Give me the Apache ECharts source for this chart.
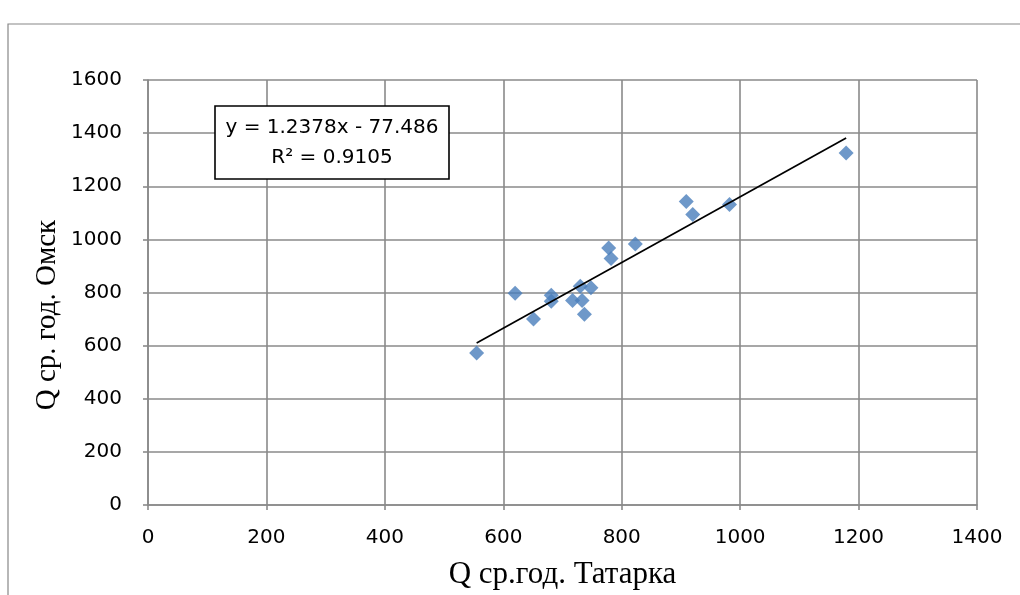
<!DOCTYPE html>
<html>
<head>
<meta charset="utf-8">
<script src="https://cdn.jsdelivr.net/npm/echarts@6/dist/echarts.min.js"></script>
<style>
html,body{margin:0;padding:0;background:#fff;}
#c{width:1020px;height:595px;}
</style>
</head>
<body>
<div id="c"></div>
<script>
const xValues = [555, 620, 651, 681, 681, 717, 730, 733, 737, 748, 778, 782, 823, 909, 920, 982, 1179];
const yValues = [572, 797, 700, 790, 767, 770, 824, 770, 718, 818, 968, 928, 983, 1143, 1094, 1131, 1325];
const slope = 1.2378;
const intercept = -77.486;
const r2 = 0.9105;
const xAxisTitle = 'Q ср.год. Татарка';
const yAxisTitle = 'Q ср. год. Омск';

const points = xValues.map((x, i) => [x, yValues[i]]);
const xMin = Math.min(...xValues), xMax = Math.max(...xValues);
const trend = [[xMin, slope * xMin + intercept], [xMax, slope * xMax + intercept]];
const eqText = 'y = ' + slope.toFixed(4) + 'x - ' + Math.abs(intercept).toFixed(3) + '\nR² = ' + r2.toFixed(4);

const chart = echarts.init(document.getElementById('c'), null, {renderer: 'canvas'});
const gridColor = '#8a8a8a';
const plain = v => String(v);
chart.setOption({
  animation: false,
  backgroundColor: '#fff',
  grid: {left: 148, right: 43, top: 80, bottom: 88},
  xAxis: {
    type: 'value', min: 0, max: 1400, interval: 200,
    name: xAxisTitle, nameLocation: 'middle', nameGap: 54,
    nameTextStyle: {fontFamily: 'Liberation Serif', fontSize: 31, color: '#000'},
    axisLine: {show: true, lineStyle: {color: gridColor, width: 1.6}},
    axisTick: {show: true, inside: false, length: 5, lineStyle: {color: gridColor, width: 1.6}},
    axisLabel: {fontFamily: 'DejaVu Sans', fontSize: 20, color: '#000', margin: 23, formatter: plain},
    splitLine: {show: true, lineStyle: {color: gridColor, width: 1.6}}
  },
  yAxis: {
    type: 'value', min: 0, max: 1600, interval: 200,
    axisLine: {show: true, lineStyle: {color: gridColor, width: 1.6}},
    axisTick: {show: true, inside: false, length: 5, lineStyle: {color: gridColor, width: 1.6}},
    axisLabel: {fontFamily: 'DejaVu Sans', fontSize: 20, color: '#000', margin: 26, formatter: plain},
    splitLine: {show: true, lineStyle: {color: gridColor, width: 1.6}}
  },
  series: [
    {
      type: 'line', data: trend, symbol: 'none', silent: true,
      lineStyle: {color: '#000', width: 1.7}, z: 3
    },
    {
      type: 'scatter', data: points, symbol: 'diamond', symbolSize: 15,
      itemStyle: {color: '#4a7ebb'}, z: 2
    }
  ],
  graphic: [
    {type: 'rect', shape: {x: 8, y: 24, width: 1030, height: 600},
     style: {fill: 'none', stroke: '#888', lineWidth: 1.2}, silent: true, z: 0},
    {type: 'text', x: 47, y: 315, rotation: Math.PI / 2, z: 5,
     style: {text: yAxisTitle, align: 'center', verticalAlign: 'middle', fontFamily: 'Liberation Serif', fontSize: 29, fill: '#000'}},
    {type: 'rect', shape: {x: 215, y: 106, width: 234, height: 73},
     style: {fill: '#fff', stroke: '#000', lineWidth: 1.6}, z: 10},
    {type: 'text', x: 332, y: 143, z: 11,
     style: {text: eqText, align: 'center', verticalAlign: 'middle', fontFamily: 'DejaVu Sans', fontSize: 20, lineHeight: 30, fill: '#000'}}
  ]
});
</script>
</body>
</html>
